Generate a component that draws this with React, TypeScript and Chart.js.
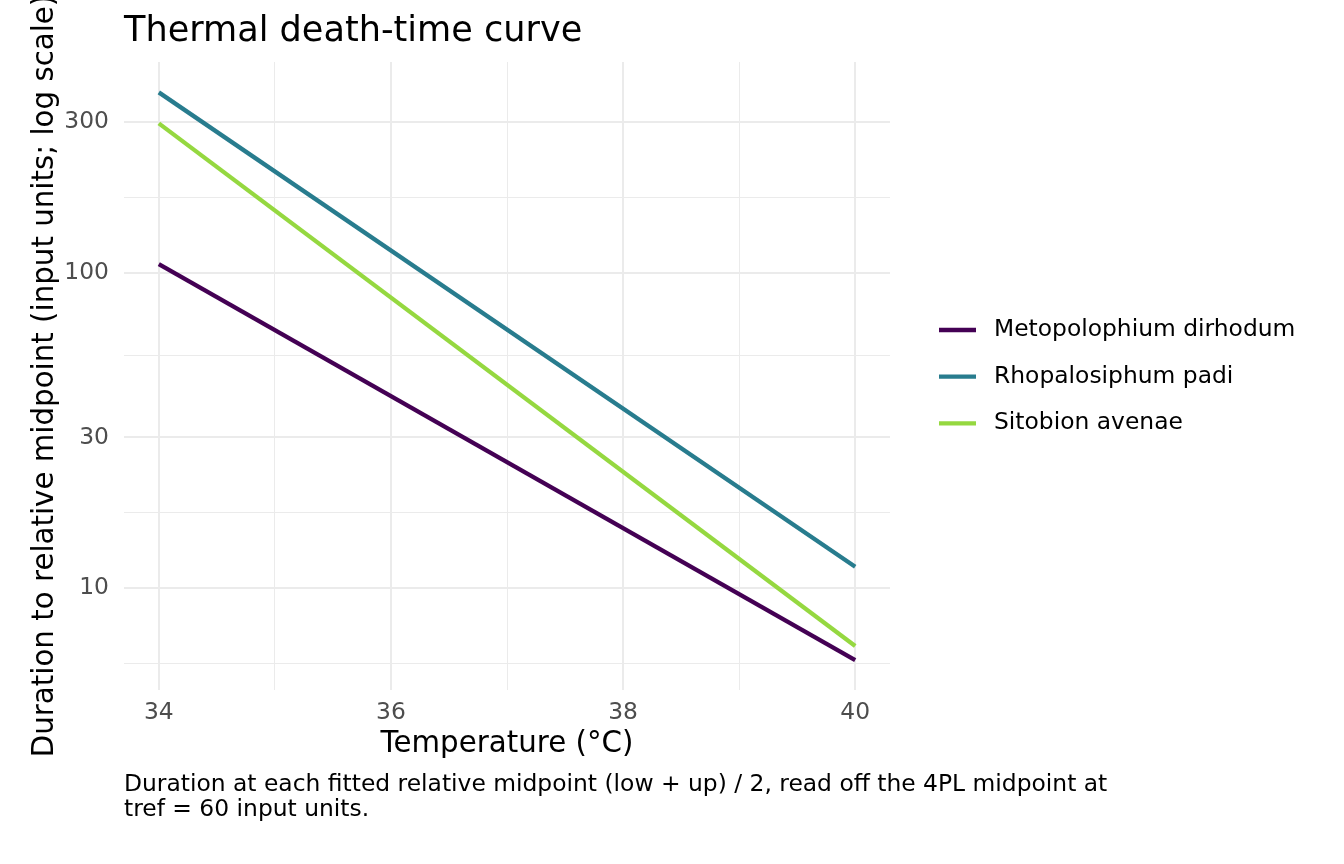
import { useEffect, useRef } from "react";
import { Chart, registerables } from "chart.js";

Chart.register(...registerables);

// Fitted thermal death-time lines (duration on a log axis vs temperature)
const temperatures = [34, 40];
const seriesNames = ["Metopolophium dirhodum", "Rhopalosiphum padi", "Sitobion avenae"];
const metopolophium = [106.4, 5.91];
const rhopalosiphum = [372.6, 11.68];
const sitobion = [297.1, 6.55];
const seriesColors = ["#440154", "#287C8E", "#95D840"];

// Axis breaks: labelled majors plus log-midpoint minors
const yMajorTicks = [10, 30, 100, 300];
const yMinorTicks = [5.77, 17.32, 54.77, 173.2];
const xMajorTicks = [34, 36, 38, 40];
const xMinorTicks = [35, 37, 39];

const titleText = "Thermal death-time curve";
const xTitle = "Temperature (°C)";
const yTitle = "Duration to relative midpoint (input units; log scale)";
const captionLines = [
  "Duration at each fitted relative midpoint (low + up) / 2, read off the 4PL midpoint at",
  "tref = 60 input units.",
];

const FAMILY = "'DejaVu Sans', sans-serif";
const GRID = "#EBEBEB";
const TICK_COLOR = "#4D4D4D";
const SMALL = 23.4;
const AXIS_TITLE = 29.3;
const PLOT_TITLE = 35.1;

const seriesValues = [metopolophium, rhopalosiphum, sitobion];

// Draws the plot title, the legend on the right and the caption below
const decorations = {
  id: "decorations",
  afterDraw(chart: any) {
    const { ctx, chartArea } = chart;
    ctx.save();
    ctx.fillStyle = "#000";
    ctx.textAlign = "left";

    ctx.font = `${PLOT_TITLE}px ${FAMILY}`;
    ctx.textBaseline = "alphabetic";
    ctx.fillText(titleText, chartArea.left, 41);

    ctx.font = `${SMALL}px ${FAMILY}`;
    captionLines.forEach((line, i) => {
      ctx.fillText(line, chartArea.left, 790.5 + i * 25);
    });

    const mid = (chartArea.top + chartArea.bottom) / 2 + 0.7;
    const step = 46.7;
    const keyLeft = chartArea.right + 49;
    const keyRight = chartArea.right + 86;
    const textX = chartArea.right + 104;
    ctx.textBaseline = "middle";
    chart.data.datasets.forEach((ds: any, i: number) => {
      const y = mid + (i - (chart.data.datasets.length - 1) / 2) * step;
      ctx.strokeStyle = ds.borderColor;
      ctx.lineWidth = ds.borderWidth;
      ctx.lineCap = "butt";
      ctx.beginPath();
      ctx.moveTo(keyLeft, y);
      ctx.lineTo(keyRight, y);
      ctx.stroke();
      ctx.fillStyle = "#000";
      ctx.fillText(ds.label, textX, y);
    });
    ctx.restore();
  },
};

export default function App() {
  const canvasRef = useRef<HTMLCanvasElement | null>(null);

  useEffect(() => {
    const canvas = canvasRef.current;
    if (!canvas) return;
    Chart.defaults.font.family = FAMILY;

    const chart = new Chart(canvas, {
      type: "line",
      data: {
        datasets: seriesNames.map((name, i) => ({
          label: name,
          data: temperatures.map((t, j) => ({ x: t, y: seriesValues[i][j] })),
          borderColor: seriesColors[i],
          backgroundColor: seriesColors[i],
          borderWidth: 4.3,
          pointRadius: 0,
          pointHoverRadius: 0,
          tension: 0,
          fill: false,
        })),
      },
      options: {
        responsive: false,
        animation: false,
        devicePixelRatio: 1,
        events: [],
        layout: { padding: { top: 62, right: 454, bottom: 0, left: 0 } },
        plugins: {
          legend: { display: false },
          title: { display: false },
          tooltip: { enabled: false },
        },
        scales: {
          x: {
            type: "linear",
            min: 33.7,
            max: 40.3,
            afterBuildTicks: (scale: any) => {
              scale.ticks = [...xMajorTicks, ...xMinorTicks]
                .sort((a, b) => a - b)
                .map((v) => ({ value: v }));
            },
            afterFit: (scale: any) => {
              scale.height = 174;
            },
            ticks: {
              autoSkip: false,
              maxRotation: 0,
              padding: 9,
              color: TICK_COLOR,
              font: { family: FAMILY, size: SMALL },
              callback: (v: any) => (xMajorTicks.includes(Number(v)) ? String(v) : ""),
            },
            grid: {
              color: GRID,
              drawTicks: false,
              lineWidth: (ctx: any) =>
                ctx.tick && xMajorTicks.includes(ctx.tick.value) ? 2 : 1,
            },
            border: { display: false },
            title: {
              display: true,
              text: xTitle,
              color: "#000",
              font: { family: FAMILY, size: AXIS_TITLE },
              padding: { top: 0, bottom: 102.4 },
            },
          },
          y: {
            type: "logarithmic",
            min: 4.75,
            max: 465,
            afterBuildTicks: (scale: any) => {
              scale.ticks = [...yMajorTicks, ...yMinorTicks]
                .sort((a, b) => a - b)
                .map((v) => ({ value: v }));
            },
            afterFit: (scale: any) => {
              scale.width = 124;
            },
            ticks: {
              autoSkip: false,
              padding: 15,
              color: TICK_COLOR,
              font: { family: FAMILY, size: SMALL },
              callback: (v: any) => (yMajorTicks.includes(Number(v)) ? String(v) : ""),
            },
            grid: {
              color: GRID,
              drawTicks: false,
              lineWidth: (ctx: any) =>
                ctx.tick && yMajorTicks.includes(ctx.tick.value) ? 2 : 1,
            },
            border: { display: false },
            title: {
              display: true,
              text: yTitle,
              color: "#000",
              font: { family: FAMILY, size: AXIS_TITLE },
              padding: { top: 28, bottom: 0 },
            },
          },
        },
      },
      plugins: [decorations],
    } as any);

    return () => chart.destroy();
  }, []);

  return (
    <div style={{ position: "fixed", left: 0, top: 0, width: 1344, height: 864, background: "#fff" }}>
      <canvas ref={canvasRef} width={1344} height={864} style={{ display: "block" }} />
    </div>
  );
}
